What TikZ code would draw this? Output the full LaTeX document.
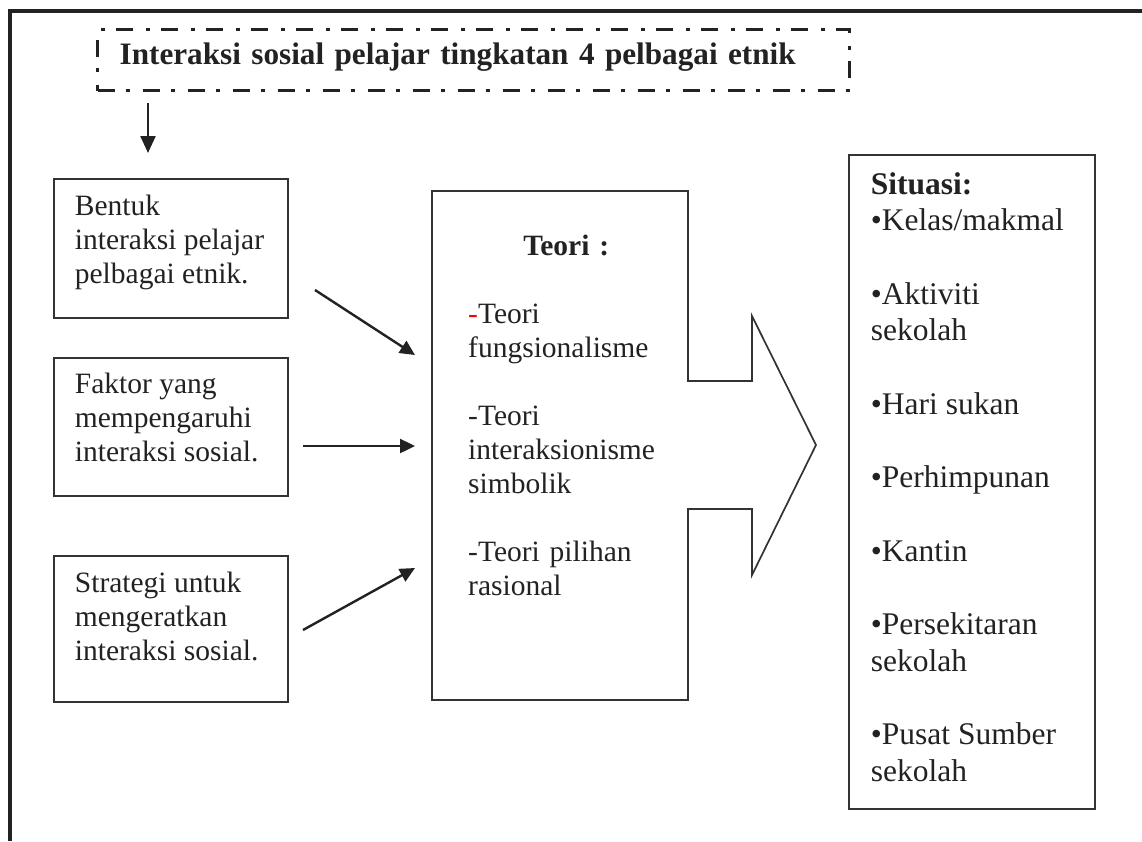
\documentclass[tikz,border=0pt]{standalone}
\usepackage{fontspec}
\setmainfont{Liberation Serif}
\usetikzlibrary{positioning,calc,arrows.meta}
\definecolor{ink}{HTML}{222222}
\definecolor{frame}{HTML}{333333}

\newcommand{\bodyfont}{\fontsize{29.5}{34}\selectfont}
\newcommand{\listfont}{\fontsize{31.5}{36.7}\selectfont}
\newcommand{\titlefont}{\fontsize{31.2}{38}\selectfont\bfseries}
% text set from the top of a box of fixed height
\newcommand{\topbox}[4]{\parbox[c][#1][t]{#2}{\raggedright\vspace*{#3}\strut#4}}

\begin{document}
\begin{tikzpicture}[x=1pt,y=-1pt,
    every node/.style={text=ink},
    titlebox/.style={draw=ink,line width=3.3pt,dash pattern=on 17pt off 11pt on 4pt off 13pt,
      anchor=north west,minimum width=752pt,minimum height=61pt,text width=708pt,
      inner xsep=22pt,inner ysep=0pt,align=left,text height=20pt,text depth=11pt,font=\titlefont},
    box/.style={draw=frame,line width=1.8pt,anchor=north west,inner xsep=21pt,inner ysep=0pt,font=\bodyfont},
    conn/.style={draw=ink,line width=2.4pt,-{Triangle[length=15pt,width=14pt]}},
  ]
  \useasboundingbox (0,0) rectangle (1142,841);
  \fill[white] (0,0) rectangle (1142,841);

  % outer frame (open at right and bottom)
  \draw[ink,line width=4pt] (10,841) -- (10,11) -- (1142,11);

  \node[titlebox] (judul) at (96,28) {Interaksi sosial pelajar tingkatan 4 pelbagai etnik};

  \node[box] (bentuk) at (53,178)
    {\topbox{139pt}{192pt}{13.2pt}{Bentuk\\interaksi pelajar\\pelbagai etnik.}};
  \node[box] (faktor) at (53,357)
    {\topbox{138pt}{192pt}{12.2pt}{Faktor yang\\mempengaruhi\\interaksi sosial.}};
  \node[box] (strategi) at (53,555)
    {\topbox{146pt}{192pt}{13.2pt}{Strategi untuk\\mengeratkan\\interaksi sosial.}};

  % theory box with its block arrow
  \draw[frame,line width=1.7pt]
    (432,191) -- (688,191) -- (688,381) -- (752,381) -- (752,316) -- (816,445)
    -- (752,575) -- (752,509) -- (688,509) -- (688,700) -- (432,700) -- cycle;
  \node[anchor=north west,text width=200pt,align=left,inner sep=0pt,font=\bodyfont] (teori) at (468,231.2)
    {\strut\makebox[196pt][c]{\bfseries Teori :}\\[34pt]
     {\color{red}-}Teori\\fungsionalisme\\[34pt]
     -Teori\\interaksionisme\\simbolik\\[34pt]
     -Teori pilihan\\rasional};

  \node[box,inner xsep=22pt] (situasi) at (848,154)
    {\topbox{654pt}{202pt}{15.3pt}{\listfont\textbf{Situasi:}\\
     •Kelas/makmal\\[36.7pt]
     •Aktiviti\\sekolah\\[36.7pt]
     •Hari sukan\\[36.7pt]
     •Perhimpunan\\[36.7pt]
     •Kantin\\[36.7pt]
     •Persekitaran\\sekolah\\[36.7pt]
     •Pusat Sumber\\sekolah}};

  \coordinate (d0) at (148,103);
  \coordinate (d1) at (148,153);
  \coordinate (a1) at (315,290);
  \coordinate (b1) at (415,355);
  \coordinate (a2) at (303,446);
  \coordinate (b2) at (415,446);
  \coordinate (a3) at (303,630);
  \coordinate (b3) at (415,568);

  \draw[conn,-{Triangle[length=17pt,width=15pt]}] (d0) -- (d1);
  \draw[conn] (a1) -- (b1);
  \draw[conn] (a2) -- (b2);
  \draw[conn] (a3) -- (b3);
\end{tikzpicture}
\end{document}
